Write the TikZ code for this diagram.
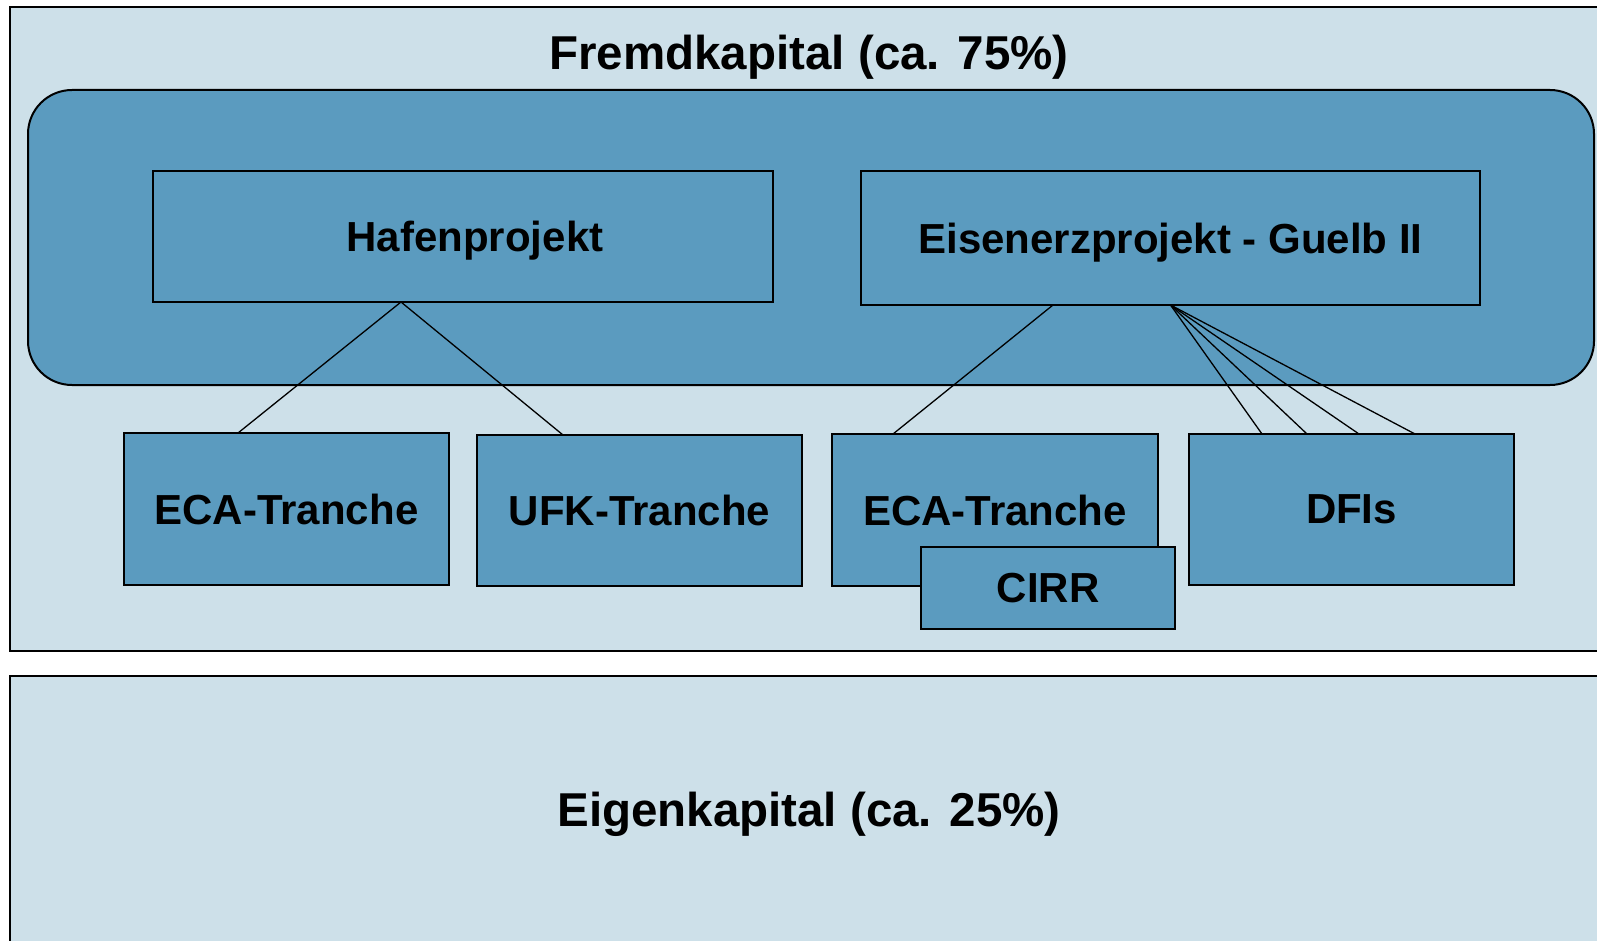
\documentclass[tikz,border=0pt]{standalone}
\usepackage{fontspec}
\setmainfont{Liberation Sans}
\definecolor{lightbg}{RGB}{205,224,233}
\definecolor{darkbl}{RGB}{91,155,191}
\begin{document}
\begin{tikzpicture}[x=1pt,y=-1pt,
  panel/.style={draw=black,line width=2pt,fill=lightbg},
  box/.style={draw=black,line width=1.5pt,fill=darkbl,outer sep=0pt,inner sep=0pt,
    font=\fontsize{42}{48}\selectfont\bfseries,text depth=0pt,anchor=center},
  title/.style={font=\fontsize{47.5}{56}\selectfont\bfseries,inner sep=0pt},
  link/.style={draw=black,line width=1.3pt}]
\useasboundingbox (0,0) rectangle (1597,941);
\fill[white] (0,0) rectangle (1597,941);
\draw[panel] (10,7) rectangle (1620,651);
\draw[panel] (10,676) rectangle (1620,970);
\draw[draw=black,line width=2pt,fill=darkbl,rounded corners=44pt] (28,90) rectangle (1594,385);
\node[title] (fk) at (809,57) {Fremdkapital (ca. 75\%)};
\node[title] (ek) at (809,814) {Eigenkapital (ca. 25\%)};
\node[box,minimum width=620pt,minimum height=131pt] (haf) at (463,236.5) {\hspace*{24pt}Hafenprojekt};
\node[box,minimum width=619pt,minimum height=134pt] (eis) at (1170.5,238) {Eisenerzprojekt - Guelb II};
\node[box,minimum width=325pt,minimum height=152pt] (eca1) at (286.5,509) {ECA-Tranche};
\node[box,minimum width=325pt,minimum height=151pt] (ufk) at (639.5,510.5) {UFK-Tranche};
\node[box,minimum width=326pt,minimum height=152pt] (eca2) at (995,510) {ECA-Tranche};
\node[box,minimum width=325pt,minimum height=151pt] (dfi) at (1351.5,509.5) {DFIs};
\node[box,minimum width=254pt,minimum height=82pt] (cirr) at (1048,588) {CIRR};
\draw[link] ([xshift=248pt]haf.south west) -- ([xshift=114pt]eca1.north west);
\draw[link] ([xshift=248pt]haf.south west) -- ([xshift=86pt]ufk.north west);
\draw[link] ([xshift=192pt]eis.south west) -- ([xshift=61pt]eca2.north west);
\foreach \d in {73,118,170,226}{
  \draw[link] (eis.south) -- ([xshift=\d pt]dfi.north west);
}
\end{tikzpicture}
\end{document}
